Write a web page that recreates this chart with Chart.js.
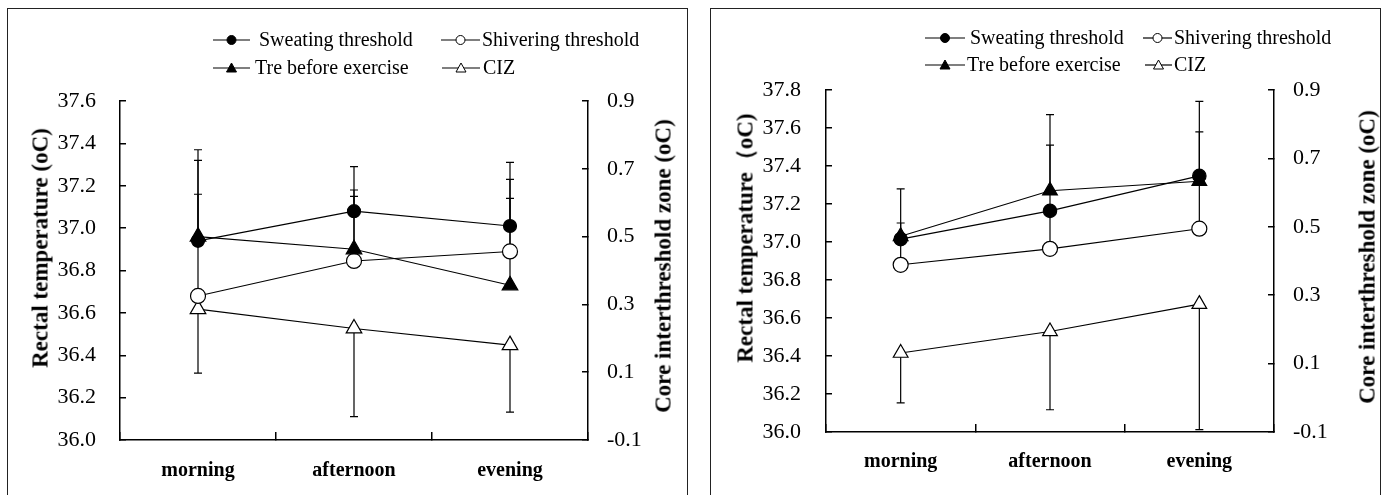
<!DOCTYPE html>
<html><head><meta charset="utf-8">
<script src="https://cdn.jsdelivr.net/npm/chart.js@4.4.0/dist/chart.umd.min.js"></script>
<style>
html,body{margin:0;padding:0;background:#fff;width:1389px;height:495px;overflow:hidden;position:relative;font-family:"Liberation Serif","DejaVu Serif",serif;}
.frame{position:absolute;border:1px solid #222;box-sizing:border-box;}
canvas{position:absolute;top:0;}
.title{position:absolute;font-family:"Liberation Serif","DejaVu Serif",serif;font-weight:bold;font-size:23px;white-space:nowrap;transform:translate(-50%,-50%) rotate(-90deg);color:#000;line-height:23px;}
.lg{position:absolute;font-family:"Liberation Serif","DejaVu Serif",serif;font-size:20px;white-space:nowrap;line-height:20px;color:#000;}
.sym{position:absolute;}
</style></head><body>
<div class="frame" style="left:7px;top:8px;width:681px;height:500px;"></div>
<div class="frame" style="left:710px;top:8px;width:671px;height:500px;"></div>
<canvas id="c1" width="700" height="495" style="left:0px;width:700px;height:495px;"></canvas>
<canvas id="c2" width="689" height="495" style="left:700px;width:689px;height:495px;"></canvas>
<div id="overlay"></div>
<script>
// ---------- data ----------
const categories = ["morning", "afternoon", "evening"];
const seriesNames = ["Sweating threshold", "Shivering threshold", "Tre before exercise", "CIZ"];

// left panel (rectal temperature axis 36.0-37.6, CIZ axis -0.1-0.9)
const leftTicksA = [36.0, 36.2, 36.4, 36.6, 36.8, 37.0, 37.2, 37.4, 37.6];
const sweatA = [36.94, 37.08, 37.01];
const treA = [36.96, 36.90, 36.73];
const shivA = [36.68, 36.845, 36.89];
const cizA = [0.286, 0.229, 0.180];
const sweatErrA = [37.37, 37.29, 37.31];
const treErrA = [37.32, 37.15, 37.14];
const shivErrA = [37.16, 37.18, 37.23];
const cizErrA = [0.097, -0.031, -0.018];

// right panel (rectal temperature axis 36.0-37.8)
const leftTicksB = [36.0, 36.2, 36.4, 36.6, 36.8, 37.0, 37.2, 37.4, 37.6, 37.8];
const sweatB = [37.015, 37.164, 37.348];
const treB = [37.03, 37.27, 37.32];
const shivB = [36.88, 36.964, 37.07];
const cizB = [0.131, 0.194, 0.274];
const sweatErrB = [37.28, 37.51, 37.74];
const treErrB = [37.10, 37.67, 37.58];
const shivErrB = [37.04, 37.19, 37.33];
const cizErrB = [-0.015, -0.035, -0.093];

const rightTicks = [-0.1, 0.1, 0.3, 0.5, 0.7, 0.9];

Chart.defaults.font.family = "'Liberation Serif', 'DejaVu Serif', serif";
Chart.defaults.color = '#000';

// ---------- plugin: error bars ----------
const errorBars = {
  id: 'errorBars',
  beforeDatasetsDraw(chart) {
    const ctx = chart.ctx;
    chart.data.datasets.forEach((ds, di) => {
      const meta = chart.getDatasetMeta(di);
      const scale = chart.scales[ds.yAxisID];
      ctx.save();
      ctx.strokeStyle = '#000';
      ctx.lineWidth = 1.2;
      meta.data.forEach((pt, i) => {
        const yEnd = scale.getPixelForValue(ds.errEnd[i]);
        ctx.beginPath();
        ctx.moveTo(pt.x, pt.y);
        ctx.lineTo(pt.x, yEnd);
        ctx.moveTo(pt.x - 4, yEnd);
        ctx.lineTo(pt.x + 4, yEnd);
        ctx.stroke();
      });
      ctx.restore();
    });
  }
};

function ds(label, data, err, axis, style, fill, radius) {
  return {
    label, data, errEnd: err, yAxisID: axis,
    borderColor: '#000', borderWidth: 1.1,
    pointStyle: style, pointRadius: radius, pointHoverRadius: radius,
    pointBackgroundColor: fill, pointBorderColor: '#000', pointBorderWidth: 1.2,
    fill: false, tension: 0
  };
}

function makeChart(id, p) {
  const tickFont = { family: "'Liberation Serif', 'DejaVu Serif', serif", size: 22 };
  const gridStyle = (len) => ({ drawOnChartArea: false, drawTicks: true, tickLength: len, color: '#000', lineWidth: 1.5 });
  return new Chart(document.getElementById(id), {
    type: 'line',
    data: {
      labels: categories,
      datasets: [
        ds(seriesNames[0], p.sweat, p.sweatErr, 'y', 'circle', '#000', p.rc),
        ds(seriesNames[2], p.tre, p.treErr, 'y', 'triangle', '#000', p.rt),
        ds(seriesNames[1], p.shiv, p.shivErr, 'y', 'circle', '#fff', p.ro),
        ds(seriesNames[3], p.ciz, p.cizErr, 'y1', 'triangle', '#fff', p.rt)
      ]
    },
    options: {
      responsive: false, animation: false, devicePixelRatio: 1,
      layout: { padding: p.pad },
      plugins: { legend: { display: false }, tooltip: { enabled: false }, title: { display: false } },
      scales: {
        x: {
          type: 'category', offset: true,
          grid: Object.assign(gridStyle(-8), { offset: true }),
          border: { display: true, color: '#000', width: 1.5 },
          ticks: { font: { family: "'Liberation Serif', 'DejaVu Serif', serif", size: 20, weight: 'bold' }, color: '#000', padding: p.xpad, maxRotation: 0, autoSkip: false },
          afterFit(s) { s.height = 50; }
        },
        y: {
          type: 'linear', position: 'left', min: p.yTicks[0], max: p.yTicks[p.yTicks.length - 1],
          afterBuildTicks(s) { s.ticks = p.yTicks.map(v => ({ value: v })); },
          ticks: { font: tickFont, color: '#000', padding: p.ypad, callback: v => Number(v).toFixed(1) },
          grid: gridStyle(-6),
          border: { display: true, color: '#000', width: 1.5 },
          afterFit(s) { s.width = 80; }
        },
        y1: {
          type: 'linear', position: 'right', min: rightTicks[0], max: rightTicks[rightTicks.length - 1],
          afterBuildTicks(s) { s.ticks = rightTicks.map(v => ({ value: v })); },
          ticks: { font: tickFont, color: '#000', padding: p.y1pad, callback: v => Number(v).toFixed(1) },
          grid: gridStyle(-6),
          border: { display: true, color: '#000', width: 1.5 },
          afterFit(s) { s.width = 80; }
        }
      }
    },
    plugins: [errorBars]
  });
}

makeChart('c1', {
  sweat: sweatA, tre: treA, shiv: shivA, ciz: cizA,
  sweatErr: sweatErrA, treErr: treErrA, shivErr: shivErrA, cizErr: cizErrA,
  yTicks: leftTicksA, rc: 6.5, ro: 7.5, rt: 9,
  pad: { left: 40, right: 32, top: 101, bottom: 5 }, xpad: 27, ypad: 30, y1pad: 25
});
makeChart('c2', {
  sweat: sweatB, tre: treB, shiv: shivB, ciz: cizB,
  sweatErr: sweatErrB, treErr: treErrB, shivErr: shivErrB, cizErr: cizErrB,
  yTicks: leftTicksB, rc: 6.7, ro: 7.5, rt: 8.5,
  pad: { left: 46, right: 35, top: 90, bottom: 13 }, xpad: 26, ypad: 31, y1pad: 25
});

// ---------- titles and legends (HTML text) ----------
const ov = document.getElementById('overlay');
function addTitle(text, cx, cy) {
  const d = document.createElement('div');
  d.className = 'title'; d.textContent = text;
  d.style.left = cx + 'px'; d.style.top = cy + 'px';
  ov.appendChild(d);
}
addTitle('Rectal temperature (oC)', 40, 248);
addTitle('Core interthreshold zone (oC)', 663, 266);
addTitle('Rectal temperature\uFF08oC)', 745, 238);
addTitle('Core interthreshold zone (oC)', 1367, 257);

function symbol(kind, x1, x2, cy) {
  const w = x2 - x1, h = 16, m = w / 2;
  let marker = '';
  if (kind === 'fc') marker = `<circle cx="${m}" cy="8" r="4.5" fill="#000" stroke="#000"/>`;
  if (kind === 'oc') marker = `<circle cx="${m}" cy="8" r="4.5" fill="#fff" stroke="#000"/>`;
  if (kind === 'ft') marker = `<polygon points="${m},3 ${m + 5},12 ${m - 5},12" fill="#000" stroke="#000"/>`;
  if (kind === 'ot') marker = `<polygon points="${m},3 ${m + 5},12 ${m - 5},12" fill="#fff" stroke="#000"/>`;
  const s = document.createElement('div');
  s.className = 'sym';
  s.style.left = x1 + 'px'; s.style.top = (cy - 8) + 'px';
  s.innerHTML = `<svg width="${w}" height="${h}"><line x1="0" y1="8" x2="${w}" y2="8" stroke="#000" stroke-width="1.2"/>${marker}</svg>`;
  ov.appendChild(s);
}
function legendText(text, x, cy) {
  const d = document.createElement('div');
  d.className = 'lg'; d.textContent = text;
  d.style.left = x + 'px'; d.style.top = (cy - 11) + 'px';
  ov.appendChild(d);
}
// left legend
symbol('fc', 213, 250, 40); legendText(seriesNames[0], 259, 40);
symbol('oc', 441, 480, 40); legendText(seriesNames[1], 482, 40);
symbol('ft', 213, 250, 68); legendText(seriesNames[2], 255, 68);
symbol('ot', 442, 480, 68); legendText(seriesNames[3], 483, 68);
// right legend
symbol('fc', 925, 965, 38); legendText(seriesNames[0], 970, 38);
symbol('oc', 1143, 1172, 38); legendText(seriesNames[1], 1174, 38);
symbol('ft', 925, 965, 65); legendText(seriesNames[2], 967, 65);
symbol('ot', 1145, 1172, 65); legendText(seriesNames[3], 1174, 65);
</script>
</body></html>
